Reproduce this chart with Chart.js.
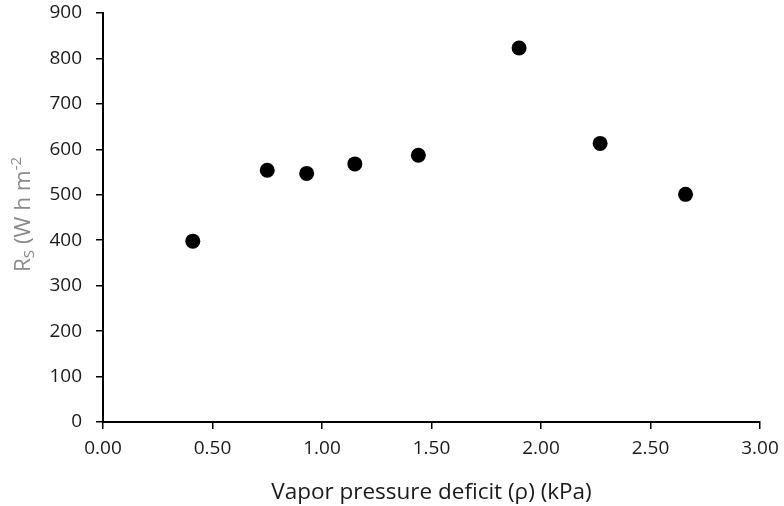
<!DOCTYPE html>
<html>
<head>
<meta charset="utf-8">
<script src="https://cdn.jsdelivr.net/npm/chart.js@4.4.1/dist/chart.umd.min.js"></script>
<style>
  html, body { margin: 0; padding: 0; background: #ffffff; }
  #wrap { width: 784px; height: 506px; position: relative; }
</style>
</head>
<body>
<div id="wrap"><canvas id="c" width="784" height="506"></canvas></div>
<script>
// ---- data ----
const vpd = [0.41, 0.75, 0.93, 1.15, 1.44, 1.90, 2.27, 2.66];      // kPa
const rs  = [398, 554, 547, 568, 587, 823, 613, 501];               // W h m-2
const xTicks = [0, 0.5, 1.0, 1.5, 2.0, 2.5, 3.0];
const yTicks = [0, 100, 200, 300, 400, 500, 600, 700, 800, 900];
const xTitle = "Vapor pressure deficit (\u03C1) (kPa)";
const yTitleParts = [
  { t: "R", mode: "n" },
  { t: "S", mode: "sub" },
  { t: " (W h m", mode: "n" },
  { t: "-2", mode: "sup" }
];

const FONT = "'Open Sans', 'DejaVu Sans', sans-serif";

const yTitlePlugin = {
  id: 'yTitle',
  afterDraw(chart) {
    const ctx = chart.ctx;
    const size = 22.5;
    const small = Math.round(size * 0.66);
    ctx.save();
    const cy = (chart.chartArea.top + chart.chartArea.bottom) / 2 - 3;
    ctx.translate(29.5, cy);
    ctx.rotate(-Math.PI / 2);
    ctx.fillStyle = '#8a8a8a';
    ctx.textBaseline = 'alphabetic';
    ctx.textAlign = 'left';
    let total = 0;
    const widths = yTitleParts.map(p => {
      ctx.font = (p.mode === 'n' ? size : small) + 'px ' + FONT;
      const w = ctx.measureText(p.t).width;
      total += w;
      return w;
    });
    let x = -total / 2;
    yTitleParts.forEach((p, i) => {
      ctx.font = (p.mode === 'n' ? size : small) + 'px ' + FONT;
      let dy = 0;
      if (p.mode === 'sub') dy = 4;
      if (p.mode === 'sup') dy = -9;
      ctx.fillText(p.t, x, dy);
      x += widths[i];
    });
    ctx.restore();
  }
};

const pts = vpd.map((v, i) => ({ x: v, y: rs[i] }));

new Chart(document.getElementById('c'), {
  type: 'scatter',
  data: {
    datasets: [{
      data: pts,
      backgroundColor: '#000000',
      borderColor: '#000000',
      borderWidth: 0,
      pointRadius: 7.5,
      pointHoverRadius: 7.5
    }]
  },
  options: {
    responsive: false,
    animation: false,
    devicePixelRatio: 1,
    layout: { padding: { top: 13, right: 24, bottom: 0, left: 0 } },
    plugins: {
      legend: { display: false },
      tooltip: { enabled: false }
    },
    scales: {
      x: {
        type: 'linear',
        min: 0, max: 3,
        afterBuildTicks(s) { s.ticks = xTicks.map(v => ({ value: v })); },
        afterFit(s) { s.height = 84; s.paddingLeft = 0; s.paddingRight = 0; },
        ticks: {
          callback: v => Number(v).toFixed(2),
          font: { family: FONT, size: 19 },
          color: '#1a1a1a',
          padding: 8,
          maxRotation: 0
        },
        grid: {
          drawOnChartArea: false,
          drawTicks: true,
          tickLength: 7,
          color: '#000000',
          lineWidth: 1.5
        },
        border: { display: true, color: '#000000', width: 2 },
        title: {
          display: true,
          text: xTitle,
          font: { family: FONT, size: 22.5 },
          color: '#1a1a1a',
          padding: { top: 0, bottom: 0 }
        }
      },
      y: {
        type: 'linear',
        min: 0, max: 900,
        afterBuildTicks(s) { s.ticks = yTicks.map(v => ({ value: v })); },
        afterFit(s) { s.width = 103; s.paddingTop = 0; s.paddingBottom = 0; },
        ticks: {
          font: { family: FONT, size: 19 },
          color: '#1a1a1a',
          padding: 14
        },
        grid: {
          drawOnChartArea: false,
          drawTicks: true,
          tickLength: 7,
          color: '#000000',
          lineWidth: 1.5
        },
        border: { display: true, color: '#000000', width: 2 }
      }
    }
  },
  plugins: [yTitlePlugin]
});
</script>
</body>
</html>
